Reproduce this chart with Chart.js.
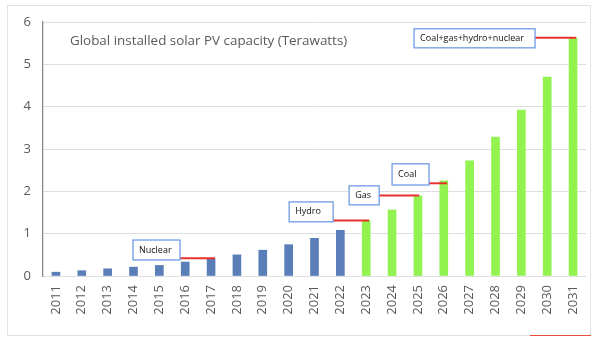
<!DOCTYPE html>
<html lang="en">
<head>
  <meta charset="UTF-8">
  <title>Global installed solar PV capacity</title>
  <script src="https://cdn.jsdelivr.net/npm/chart.js"></script>
  <style>
    html, body { margin: 0; padding: 0; background: #fff; }
    #wrap { position: relative; width: 600px; height: 343px; }
    #frame {
      position: absolute; left: 7px; top: 5px; width: 584px; height: 331px;
      border: 1px solid #e2e2e2; box-sizing: border-box;
    }
    #redmark {
      position: absolute; left: 530px; top: 335px; width: 61px; height: 1px;
      background: #ec4a3c; z-index: 2;
    }
    canvas { position: absolute; left: 0; top: 0; }
  </style>
</head>
<body>
<div id="wrap">
  <div id="frame"></div>
  <canvas id="pvChart" width="600" height="343"></canvas>
  <div id="redmark"></div>
</div>

<script>
  // data
  const years = ['2011','2012','2013','2014','2015','2016','2017','2018','2019','2020','2021',
                 '2022','2023','2024','2025','2026','2027','2028','2029','2030','2031'];
  const actual = [0.09, 0.125, 0.17, 0.21, 0.25, 0.33, 0.41, 0.50, 0.61, 0.74, 0.89,
                  1.08, null, null, null, null, null, null, null, null, null];
  const projected = [null, null, null, null, null, null, null, null, null, null, null,
                     null, 1.31, 1.56, 1.89, 2.25, 2.72, 3.28, 3.92, 4.70, 5.62];
  const yTicks = [0, 1, 2, 3, 4, 5, 6];

  // callouts: text, level the red line marks, box span (category index) and box top/bottom (value)
  const calloutText = ['Nuclear', 'Hydro', 'Gas', 'Coal', 'Coal+gas+hydro+nuclear'];
  const calloutLevel = [0.42, 1.31, 1.90, 2.19, 5.63];
  const calloutLineEnd = [6.15, 12.11, 14.05, 15.13, 20.12];
  const calloutBoxFrom = [2.98, 9.02, 11.34, 13.0, 13.85];
  const calloutBoxTo = [4.80, 10.72, 12.5, 14.43, 18.53];
  const calloutBoxTop = [0.85, 1.75, 2.13, 2.65, 5.84];
  const calloutBoxBottom = [0.38, 1.28, 1.68, 2.15, 5.39];

  const callouts = {
    id: 'callouts',
    afterDatasetsDraw(chart) {
      const { ctx, scales: { x, y } } = chart;
      const step = x.getPixelForValue(1) - x.getPixelForValue(0);
      const catX = c => x.getPixelForValue(0) + c * step;
      ctx.save();
      calloutText.forEach((t, i) => {
        const x1 = catX(calloutBoxFrom[i]), x2 = catX(calloutBoxTo[i]);
        const y1 = y.getPixelForValue(calloutBoxTop[i]), y2 = y.getPixelForValue(calloutBoxBottom[i]);
        // red line
        ctx.strokeStyle = '#e8312d';
        ctx.lineWidth = 2;
        const ly = y.getPixelForValue(calloutLevel[i]);
        ctx.beginPath();
        ctx.moveTo(x2, ly);
        ctx.lineTo(catX(calloutLineEnd[i]), ly);
        ctx.stroke();
        // box
        ctx.fillStyle = '#fff';
        ctx.fillRect(x1, y1, x2 - x1, y2 - y1);
        ctx.strokeStyle = '#6f9be6';
        ctx.lineWidth = 1.3;
        ctx.strokeRect(x1, y1, x2 - x1, y2 - y1);
        ctx.fillStyle = '#111';
        ctx.font = '9px "Open Sans", sans-serif';
        ctx.textBaseline = 'middle';
        ctx.textAlign = 'left';
        ctx.fillText(t, x1 + 6, (y1 + y2) / 2);
      });
      ctx.restore();
    }
  };

  const title = {
    id: 'insideTitle',
    afterDraw(chart) {
      const { ctx } = chart;
      ctx.save();
      ctx.fillStyle = '#595959';
      ctx.font = '13.4px "Open Sans", sans-serif';
      ctx.textBaseline = 'middle';
      ctx.fillText('Global installed solar PV capacity (Terawatts)', 70, 41);
      ctx.restore();
    }
  };

  new Chart(document.getElementById('pvChart'), {
    type: 'bar',
    data: {
      labels: years,
      datasets: [
        { data: actual, backgroundColor: '#5a7fb8', barThickness: 8, grouped: false },
        { data: projected, backgroundColor: '#92f24f', barThickness: 8, grouped: false }
      ]
    },
    options: {
      responsive: false,
      animation: false,
      layout: { padding: { left: 0, top: 22, right: 14, bottom: 0 } },
      plugins: { legend: { display: false }, tooltip: { enabled: false } },
      scales: {
        x: {
          grid: { display: false, drawTicks: false },
          border: { display: false },
          ticks: {
            color: '#595959', font: { family: 'Open Sans', size: 13 },
            minRotation: 90, maxRotation: 90, padding: 9, autoSkip: false
          },
          afterFit: s => { s.height = 67; }
        },
        y: {
          min: 0, max: 6,
          afterBuildTicks: s => { s.ticks = yTicks.map(v => ({ value: v })); },
          grid: { color: '#dedede', drawTicks: false },
          border: { display: true, color: '#8a8a8a', width: 1.3 },
          ticks: { color: '#595959', font: { family: 'Open Sans', size: 13 }, padding: 12 },
          afterFit: s => { s.width = 43; }
        }
      }
    },
    plugins: [callouts, title]
  });
</script>
</body>
</html>
